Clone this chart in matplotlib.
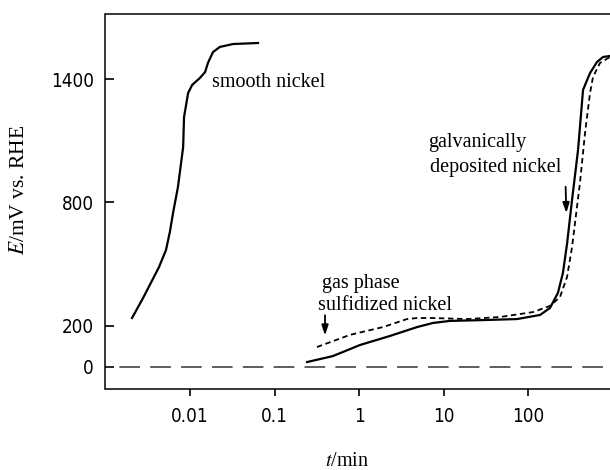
import matplotlib
matplotlib.use("Agg")
import matplotlib.pyplot as plt

# smooth nickel
smooth_t = [0.00206, 0.00278, 0.0043, 0.0052, 0.0058, 0.0063, 0.0072, 0.0083, 0.0085,
            0.0095, 0.0106, 0.0131, 0.0151, 0.0163, 0.0187, 0.0226, 0.0323, 0.0638]
smooth_e = [238, 335, 486, 569, 660, 749, 875, 1070, 1215,
            1332, 1371, 1405, 1434, 1478, 1531, 1556, 1570, 1575]

# galvanically deposited nickel (solid)
galv_t = [0.243, 0.49, 1.03, 2.33, 4.86, 7.5, 11.9, 29.3, 74, 139, 182, 226, 259,
          290, 332, 391, 448, 542, 656, 773, 934]
galv_e = [24, 53, 107, 151, 194, 214, 224, 228, 233, 253, 287, 360, 457,
          600, 812, 1055, 1347, 1429, 1483, 1507, 1512]

# gas phase sulfidized nickel (dashed)
gas_t = [0.318, 0.78, 1.92, 3.70, 4.86, 7.5, 19, 46.7, 115, 182, 239, 290, 332,
         412, 473, 542, 588, 711, 934]
gas_e = [97, 156, 194, 233, 238, 238, 233, 243, 267, 297, 340, 438, 583,
         895, 1138, 1332, 1410, 1478, 1507]

x_ticks = [0.01, 0.1, 1, 10, 100]
x_labels = ["0.01", "0.1", "1", "10", "100"]
y_ticks = [0, 200, 800, 1400]

plt.rcParams["mathtext.fontset"] = "stix"

fig = plt.figure(figsize=(6.1, 4.7), dpi=100)
ax = fig.add_axes([105.5 / 610, 1 - 389 / 470, 1 - 105.5 / 610, 375 / 470])

ax.plot(smooth_t, smooth_e, color="black", lw=1.6)
ax.plot(galv_t, galv_e, color="black", lw=1.6)
ax.plot(gas_t, gas_e, color="black", lw=1.3, dashes=(3, 2))
ax.axhline(0, color="#333333", lw=1.1, linestyle=(10.8, (13.5, 6.7)))

ax.set_xscale("log")
ax.set_xlim(0.001, 934)
ax.set_ylim(-107, 1716)

ax.set_xticks(x_ticks)
ax.set_xticklabels(x_labels)
ax.minorticks_off()
ax.set_yticks(y_ticks)

for lab in ax.get_xticklabels() + ax.get_yticklabels():
    lab.set_fontfamily("DejaVu Sans")
    lab.set_fontstretch("condensed")
    lab.set_fontsize(13.5)

ax.tick_params(axis="x", direction="out", length=5, width=1.2, pad=8)
ax.tick_params(axis="y", direction="in", length=6.5, width=1.2, pad=8.5)

ax.spines["right"].set_visible(False)
for s in ("left", "top", "bottom"):
    ax.spines[s].set_linewidth(1.1)

fig.text(20 / 610, 1 - 190 / 470, "$E$/mV vs. RHE", rotation=90, ha="center",
         va="center", family="Liberation Serif", fontsize=15.5)
fig.text(347 / 610, 1 - 462 / 470, "$t$/min", ha="center", va="center",
         family="Liberation Serif", fontsize=14.5)

txt = dict(family="Liberation Serif", fontsize=14.5, va="center", ha="left")
ax.text(0.0182, 1381, "smooth nickel", **txt)
ax.text(6.56, 1089, "galvanically", **txt)
ax.text(6.92, 972, "deposited nickel", **txt)
ax.text(0.365, 408, "gas phase", **txt)
ax.text(0.327, 297, "sulfidized nickel", **txt)

arrow = dict(arrowstyle="-|>,head_length=0.6,head_width=0.2", color="black", lw=1.3)
ax.annotate("", xy=(285, 735), xytext=(278, 890), arrowprops=arrow)
ax.annotate("", xy=(0.396, 140), xytext=(0.396, 265), arrowprops=arrow)

fig.savefig("out.png", dpi=100)
